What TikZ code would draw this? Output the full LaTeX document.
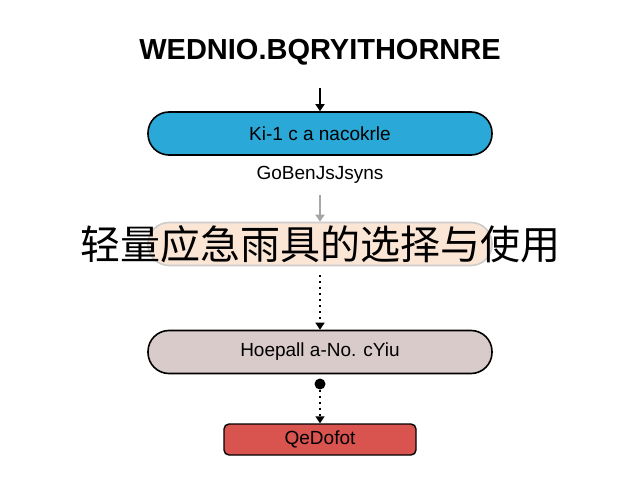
\documentclass[tikz,border=0pt]{standalone}
\usepackage{fontspec}
\setmainfont{Liberation Sans}
\newfontfamily\cjk{Noto Sans CJK SC}
\usetikzlibrary{arrows.meta,positioning}
\definecolor{stepblue}{HTML}{2AA8D8}
\definecolor{steppeach}{HTML}{FBE6D6}
\definecolor{stepmauve}{HTML}{DACBCB}
\definecolor{stepred}{HTML}{D9534F}
\tikzset{
    %Define standard arrow tip
    >={Triangle[length=7pt,width=9pt]},
    %Define style for boxes
    pill/.style={
           rectangle,
           rounded corners=21pt,
           draw=black, line width=1.6pt,
           minimum width=344pt,
           minimum height=43pt,
           font=\fontsize{19}{19}\selectfont,
           text centered},
    endbox/.style={
           rectangle,
           rounded corners=5pt,
           draw=black, line width=1.4pt,
           minimum width=192pt,
           minimum height=31pt,
           fill=stepred,
           font=\fontsize{19}{19}\selectfont},
    % Define arrow style
    imply/.style={
           ->,
           line width=1.6pt},
    faded/.style={
           ->,
           line width=1.6pt,
           draw=black!35},
    induced/.style={
           ->,
           line width=1.6pt,
           dash pattern=on 2pt off 4pt}
}
\begin{document}
\begin{tikzpicture}[x=1pt,y=1pt]
 \useasboundingbox (0,0) rectangle (640,480);
 %nodes
    \node[font=\bfseries\fontsize{29}{29}\selectfont] (title) at (320,428) {WEDNIO.BQRYITHORNRE};
    \node[pill, fill=stepblue] (check) at (320,346.5) {Ki-1 c a nacokrle};
    \node[font=\fontsize{19}{19}\selectfont] (sub) at (320,305) {GoBenJsJsyns};
    \node[pill, fill=steppeach, draw=black!20] (pick) at (320,236) {};
    \node[font=\cjk\fontsize{40}{40}\selectfont] (head) at (320,236) {轻量应急雨具的选择与使用};
    \node[pill, fill=stepmauve] (keep) at (320,128) {Hoepall a-No. cYiu};
    \node[circle, fill=black, inner sep=0pt, minimum size=11pt] (dot) at (320,96) {};
    \node[endbox] (done) at (320,40.5) {QeDofot};
 %edges
    \coordinate (t0) at (320,392);
    \coordinate (s0) at (320,285);
    \coordinate (p0) at (320,205);
    \draw[imply] (t0) -- (check.north);
    \draw[faded] (s0) -- (pick.north);
    \draw[induced] (p0) -- (keep.north);
    \draw[induced] (dot.south) -- (done.north);
  \end{tikzpicture}
\end{document}
